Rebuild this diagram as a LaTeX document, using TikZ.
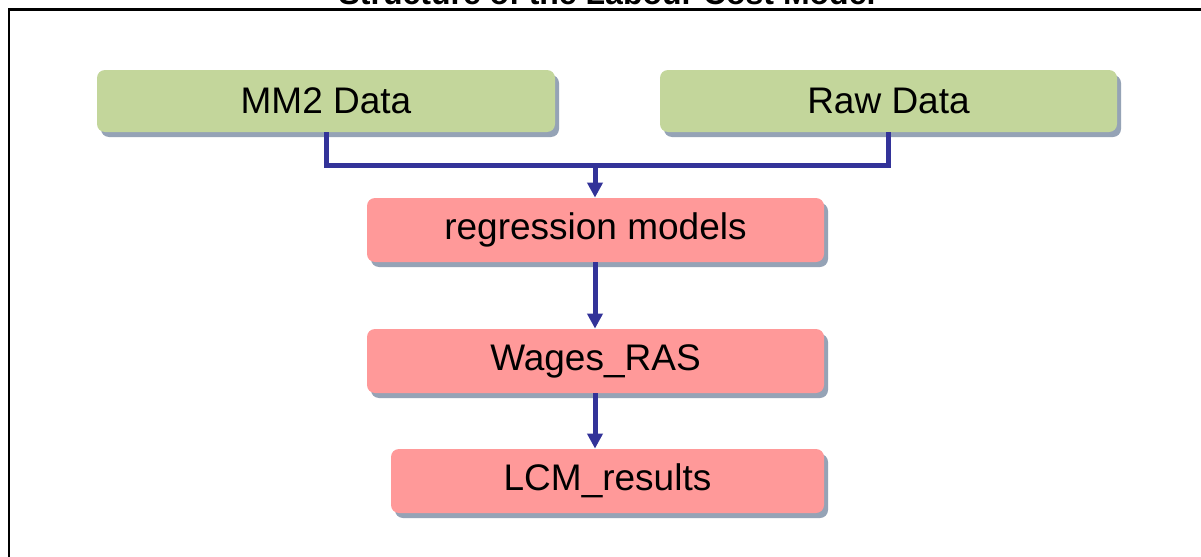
\documentclass[tikz,border=0pt]{standalone}
\usepackage{fontspec}
\setmainfont{Liberation Sans}
\usetikzlibrary{arrows.meta,shadows}
\definecolor{boxgreen}{HTML}{C3D69B}
\definecolor{boxred}{HTML}{FF9999}
\definecolor{shadowc}{HTML}{95A3B6}
\definecolor{linec}{HTML}{333399}
\tikzset{
  flowbox/.style={draw=none, rounded corners=4pt, minimum height=31pt, inner sep=0pt,
    font=\fontsize{18.5}{22}\selectfont,
    drop shadow={shadow xshift=2pt, shadow yshift=-2.5pt, fill=shadowc, opacity=1}},
  databox/.style={flowbox, fill=boxgreen},
  procbox/.style={flowbox, fill=boxred, minimum height=32pt},
  conn/.style={draw=linec, line width=2.5pt},
  arr/.style={conn, -{Triangle[length=7.5pt,width=7.5pt]}},
  frameline/.style={draw=black, line width=1.1pt},
  titletext/.style={font=\bfseries\fontsize{16}{19}\selectfont, anchor=base, inner sep=0pt}
}
\begin{document}
\begin{tikzpicture}[x=0.5pt,y=-0.5pt]
\useasboundingbox (0,0) rectangle (1201,557);
\clip (0,0) rectangle (1201,557);
\fill[white] (0,0) rectangle (1201,557);
\draw[frameline] (9,9.5) rectangle (1230,590);
\node[titletext] (title) at (607,4) {Structure of the Labour Cost Model};

\node[databox, minimum width=229pt] (mm2) at (326,101) {MM2 Data};
\node[databox, minimum width=228.5pt] (raw) at (888.5,101) {Raw Data};
\node[procbox, minimum width=228.5pt] (reg) at (595.5,230) {regression models};
\node[procbox, minimum width=228.5pt] (wag) at (595.5,361) {Wages\_RAS};
\node[procbox, minimum width=216.5pt] (lcm) at (607.5,481) {LCM\_results};

\coordinate (j) at (595,165.5);
\draw[conn] (mm2.south) -- (mm2.south |- j) -- (raw.south |- j) -- (raw.south);
\draw[arr] (j) -- (reg.north -| j);
\draw[arr] (reg.south -| j) -- (wag.north -| j);
\draw[arr] (wag.south -| j) -- (lcm.north -| j);
\end{tikzpicture}
\end{document}
